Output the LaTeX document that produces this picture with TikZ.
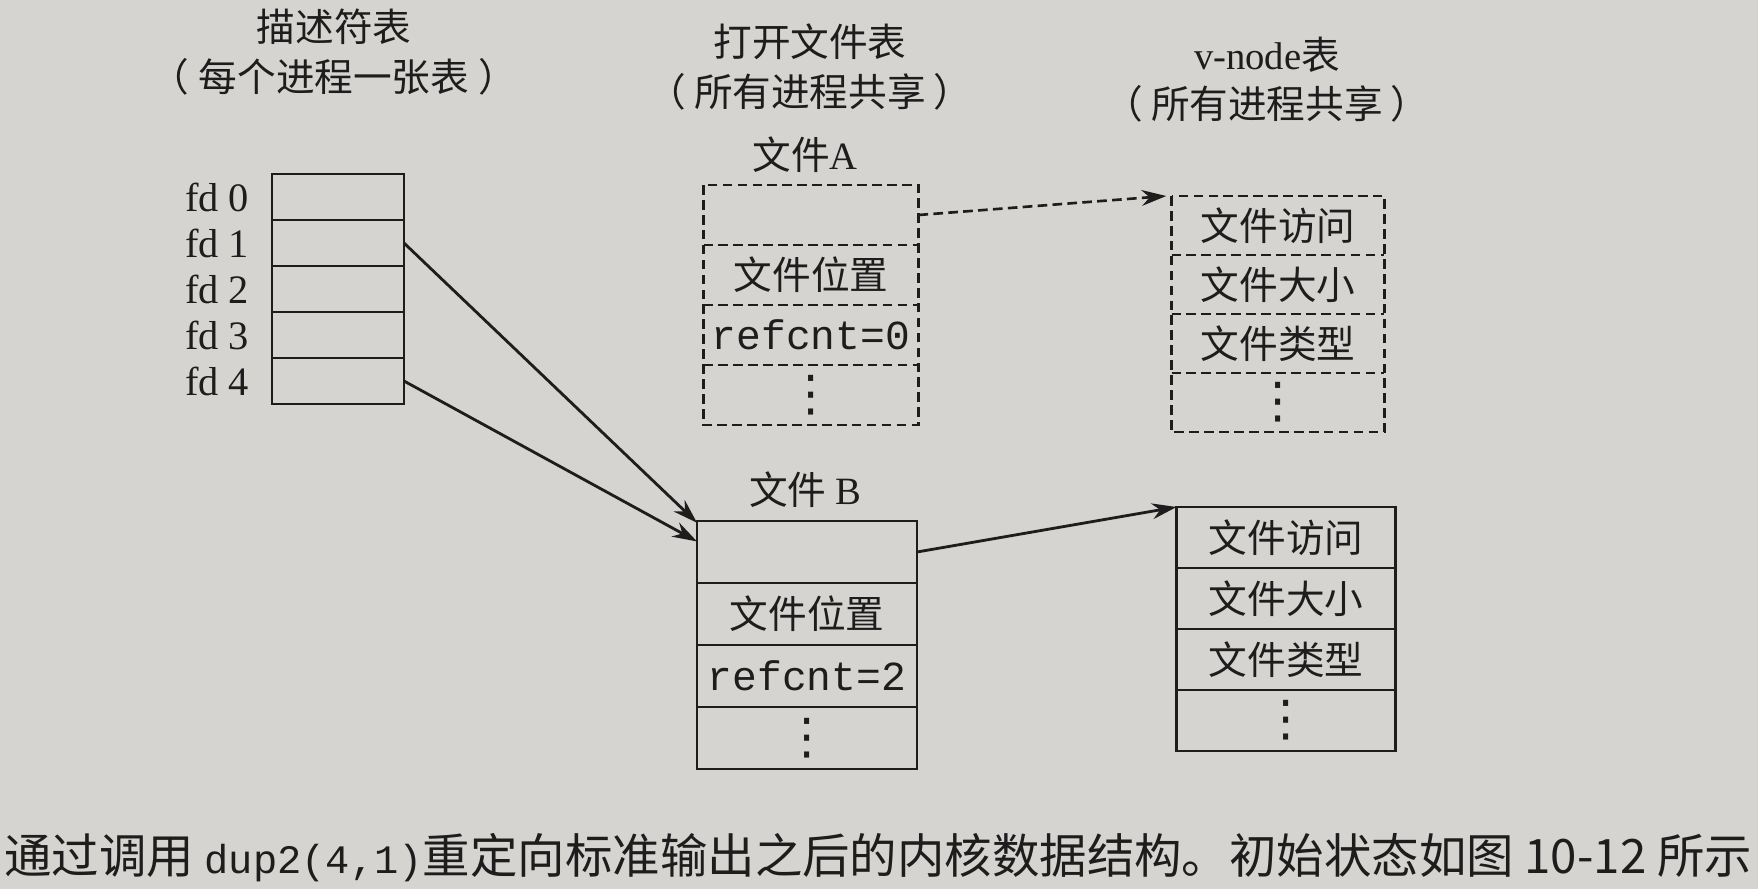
\documentclass[tikz,border=0pt]{standalone}
\usepackage{fontspec}
\setmainfont{Liberation Serif}
\setmonofont{Liberation Mono}
\newfontfamily\cjk{Noto Sans CJK SC}
\newfontfamily\sym{DejaVu Sans}
\usetikzlibrary{arrows.meta,positioning}
\definecolor{paper}{RGB}{214,212,209}
\definecolor{ink}{RGB}{30,28,28}
\begin{document}
\begin{tikzpicture}[x=0.02cm,y=-0.02cm,color=ink,font=\cjk\fontsize{22}{26}\selectfont,fdcell/.style={draw, line width=1.4pt, minimum width=2.64cm, minimum height=0.92cm, inner sep=0pt, outer sep=0pt},cell/.style={minimum width=4.3cm, minimum height=1.2cm, inner sep=0pt, outer sep=0pt},solidcell/.style={cell, draw, line width=1.4pt, minimum width=4.4cm, minimum height=1.24cm},dashline/.style={line width=1.5pt, dash pattern=on 5.5pt off 3pt},title/.style={align=center, font=\cjk\fontsize{22}{28}\selectfont},arr/.style={-{Stealth[length=14pt,width=9pt]}, line width=1.6pt}]
\newcommand{\refc}[1]{{\fontsize{23.5}{26}\selectfont\ttfamily refcnt=#1}}
\newcommand{\dotsv}{{\sym\fontsize{28}{28}\selectfont ⋮}}
\path[use as bounding box, fill=paper] (0,0) rectangle (1758,889);
% column titles
\node[title] (tfd) at (334,52) {描述符表\\（\hspace{0.25em}每个进程一张表\hspace{0.25em}）};
\node[title] (topen) at (810,67) {打开文件表\\（\hspace{0.2em}所有进程共享\hspace{0.2em}）};
\node[title] (tvnode) at (1267,80) {{\rmfamily v-node}表\\（\hspace{0.2em}所有进程共享\hspace{0.2em}）};
% descriptor table
\foreach \i in {0,...,4}{\node[fdcell] (d\i) at (338,{197+46*\i}) {};\node[font=\rmfamily\fontsize{23}{26}\selectfont, inner sep=0pt, left=0.45cm of d\i] (fd\i) {fd \i};}
% file A (dashed) and its v-node
\node (lA) at (805,155) {文件{\rmfamily A}};
\foreach \t [count=\i from 0] in {{},文件位置,\refc{0},\dotsv}\node[cell] (a\i) at (811,{215+60*\i}) {\t};
\draw[dashline] (a0.north west) rectangle (a3.south east);\foreach \i in {0,1,2}\draw[dashline] (a\i.south west) -- (a\i.south east);
\foreach \t [count=\i from 0] in {文件访问,文件大小,文件类型,\dotsv}\node[cell, minimum width=4.26cm, minimum height=1.18cm] (va\i) at (1278,{225.5+59*\i}) {\t};
\draw[dashline] (va0.north west) rectangle (va3.south east);\foreach \i in {0,1,2}\draw[dashline] (va\i.south west) -- (va\i.south east);
% file B (solid) and its v-node
\node (lB) at (805,490) {文件 {\rmfamily B}};
\foreach \t [count=\i from 0] in {{},文件位置,\refc{2},\dotsv}\node[solidcell] (b\i) at (807,{552+62*\i}) {\t};
\foreach \t [count=\i from 0] in {文件访问,文件大小,文件类型,\dotsv}\node[solidcell, minimum width=4.38cm, minimum height=1.22cm] (vb\i) at (1286,{537.5+61*\i}) {\t};
% pointers
\draw[arr] (d1.east) -- ([yshift=-1pt]b0.north west);
\draw[arr] (d4.east) -- ([yshift=6pt]b0.west);
\draw[arr, dashline] (a0.east) -- ([xshift=-3pt]va0.north west);
\draw[arr] (b0.east) -- (vb0.north west);
% caption
\node[anchor=west, inner sep=0pt, font=\cjk\fontsize{27}{30}\selectfont] (cap) at (4,858) {通过调用 {\fontsize{23}{26}\selectfont\ttfamily dup2(4,1)}重定向标准输出之后的内核数据结构。初始状态如图 10-12 所示};
\end{tikzpicture}
\end{document}
